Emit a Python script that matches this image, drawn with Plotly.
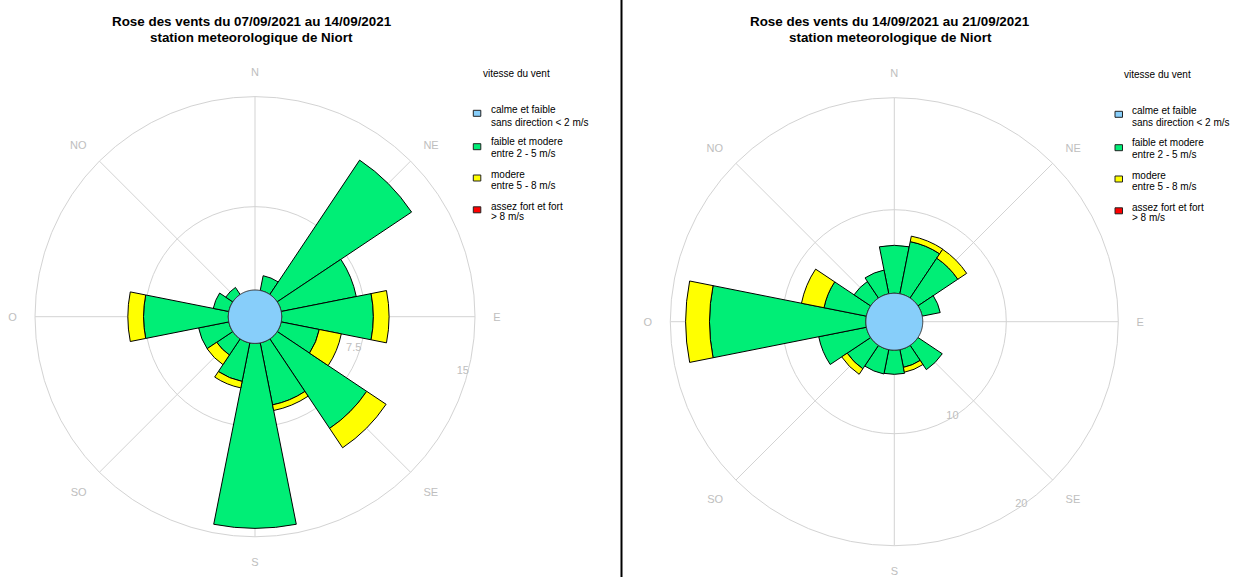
import numpy as np
import plotly.graph_objects as go

W, H = 1241, 577
FONT = "Liberation Sans, Arial, sans-serif"

# ---------------- data ----------------
direction_deg = [0, 22.5, 45, 67.5, 90, 112.5, 135, 157.5,
                 180, 202.5, 225, 247.5, 270, 292.5, 315, 337.5]
direction_names = ["N", "NNE", "NE", "ENE", "E", "ESE", "SE", "SSE",
                   "S", "SSO", "SO", "OSO", "O", "ONO", "NO", "NNO"]
compass_deg = [0, 45, 90, 135, 180, 225, 270, 315]
compass_labels = ["N", "NE", "E", "SE", "S", "SO", "O", "NO"]

legend_title = "vitesse du vent"
class_line1 = ["calme et faible", "faible et modere", "modere", "assez fort et fort"]
class_line2 = ["sans direction < 2 m/s", "entre 2 - 5 m/s", "entre 5 - 8 m/s", "> 8 m/s"]
class_colors = ["#87CEFA", "#00EE76", "#FFFF00", "#FF0000"]

title_1 = ["Rose des vents du 07/09/2021 au 14/09/2021", "station meteorologique de Niort"]
title_2 = ["Rose des vents du 14/09/2021 au 21/09/2021", "station meteorologique de Niort"]

# chart 1 (07/09 -> 14/09)
calm_1 = 1.82
green_1 = [0, 1.03, 11.02, 5.22, 6.25, 2.65, 7.34, 4.31, 12.61, 2.68, 1.32, 2.10, 5.78, 1.08, 0.58, 0]
yellow_1 = [0, 0, 0, 0, 1.07, 1.53, 1.59, 0.39, 0, 0.45, 0.79, 0, 1.07, 0, 0, 0]
red_1 = [0, 0, 0, 0, 0, 0, 0, 0, 0, 0, 0, 0, 0, 0, 0, 0]
radial_ticks_1 = [7.5, 15]
radial_ticklabels_1 = ["7.5", "15"]

# chart 2 (14/09 -> 21/09)
calm_2 = 2.54
green_2 = [4.28, 4.75, 4.28, 1.64, 0, 0, 2.61, 1.62, 2.16, 2.22, 2.52, 4.34, 13.96, 3.86, 1.78, 2.16]
yellow_2 = [0, 0.50, 0.95, 0, 0, 0, 0, 0.44, 0, 0, 0.59, 0, 2.13, 2.05, 0, 0]
red_2 = [0, 0, 0, 0, 0, 0, 0, 0, 0, 0, 0, 0, 0, 0, 0, 0]
radial_ticks_2 = [10, 20]
radial_ticklabels_2 = ["10", "20"]


def px_x(x):
    return x / W


def px_y(y):
    return 1 - y / H


fig = go.Figure()


def add_rose(subplot, calm, classes):
    cum = [calm] * len(direction_deg)
    for values, color in classes:
        idx = [i for i, v in enumerate(values) if v > 0]
        if idx:
            fig.add_trace(go.Barpolar(
                subplot=subplot,
                theta=[direction_deg[i] for i in idx],
                r=[values[i] for i in idx],
                base=[cum[i] for i in idx],
                width=[22.5] * len(idx),
                marker=dict(color=color, line=dict(color="black", width=1)),
                customdata=[direction_names[i] for i in idx], showlegend=False,
                hovertemplate="%{customdata}: %{r}<extra></extra>"))
        cum = [c + v for c, v in zip(cum, values)]
    circle_theta = np.linspace(0, 360, 241)
    fig.add_trace(go.Scatterpolar(
        subplot=subplot, theta=circle_theta, r=[calm] * len(circle_theta),
        mode="lines", fill="toself", fillcolor=class_colors[0],
        line=dict(color="#333333", width=1), showlegend=False, hoverinfo="skip"))


add_rose("polar", calm_1, [(green_1, class_colors[1]), (yellow_1, class_colors[2]), (red_1, class_colors[3])])
add_rose("polar2", calm_2, [(green_2, class_colors[1]), (yellow_2, class_colors[2]), (red_2, class_colors[3])])


def polar_layout(cx, cy, R, rmax, tvals, ttext, rad_angle):
    return dict(
        domain=dict(x=[px_x(cx - R), px_x(cx + R)], y=[px_y(cy + R), px_y(cy - R)]),
        bgcolor="white", barmode="overlay", bargap=0,
        angularaxis=dict(rotation=90, direction="clockwise", tickmode="array",
                         tickvals=compass_deg, ticktext=compass_labels,
                         showgrid=True, gridcolor="#d3d3d3", gridwidth=1,
                         showline=True, linecolor="#d3d3d3", linewidth=1,
                         ticks="outside", ticklen=15.5, tickcolor="rgba(0,0,0,0)",
                         tickfont=dict(family=FONT, size=11, color="#bebebe")),
        radialaxis=dict(range=[0, rmax], tickmode="array", tickvals=tvals, ticktext=ttext,
                        showline=False, showgrid=True, gridcolor="#d3d3d3", gridwidth=1,
                        ticks="", angle=rad_angle, tickangle=rad_angle,
                        tickfont=dict(family=FONT, size=11, color="#bebebe")),
    )


annotations = []
shapes = []


def add_titles(cx, lines):
    for y, t in zip([21.5, 37.2], lines):
        annotations.append(dict(x=px_x(cx), y=px_y(y), xref="paper", yref="paper",
                                text="<b>" + t + "</b>", showarrow=False,
                                xanchor="center", yanchor="middle",
                                font=dict(family=FONT, size=13.4, color="black")))


def add_legend(x_text, x_sw, dy):
    annotations.append(dict(x=px_x(x_text - 8), y=px_y(73.5 + dy), xref="paper", yref="paper",
                            text=legend_title, showarrow=False, xanchor="left", yanchor="middle",
                            font=dict(family=FONT, size=10, color="black")))
    line1_y = [110, 141.7, 174.3, 206]
    line2_y = [122, 153.3, 186, 216.7]
    sw_y = [113.3, 146.7, 178, 209.8]
    for i in range(4):
        annotations.append(dict(x=px_x(x_text), y=px_y(line1_y[i] + dy), xref="paper", yref="paper",
                                text=class_line1[i], showarrow=False, xanchor="left", yanchor="middle",
                                font=dict(family=FONT, size=10, color="black")))
        annotations.append(dict(x=px_x(x_text), y=px_y(line2_y[i] + dy), xref="paper", yref="paper",
                                text=class_line2[i], showarrow=False, xanchor="left", yanchor="middle",
                                font=dict(family=FONT, size=10, color="black")))
        shapes.append(dict(type="rect", xref="paper", yref="paper",
                           x0=px_x(x_sw), x1=px_x(x_sw + 7.5),
                           y0=px_y(sw_y[i] + dy + 3), y1=px_y(sw_y[i] + dy - 3),
                           fillcolor=class_colors[i], line=dict(color="#222222", width=1)))


add_titles(251.5, title_1)
add_titles(890.2, title_2)
add_legend(488.5, 473.3, 0)
add_legend(1130, 1115, 1.0)

shapes.append(dict(type="line", xref="paper", yref="paper", x0=px_x(621.5), x1=px_x(621.5),
                   y0=0, y1=1, line=dict(color="black", width=2)))

fig.update_layout(
    width=W, height=H, margin=dict(l=0, r=0, t=0, b=0, pad=0),
    paper_bgcolor="white", plot_bgcolor="white", showlegend=False,
    polar=polar_layout(255, 316.7, 220, 15, radial_ticks_1, radial_ticklabels_1, -12),
    polar2=polar_layout(894.3, 321.7, 224, 20, radial_ticks_2, radial_ticklabels_2, -52),
    annotations=annotations, shapes=shapes,
)

fig.write_html("out.html")
